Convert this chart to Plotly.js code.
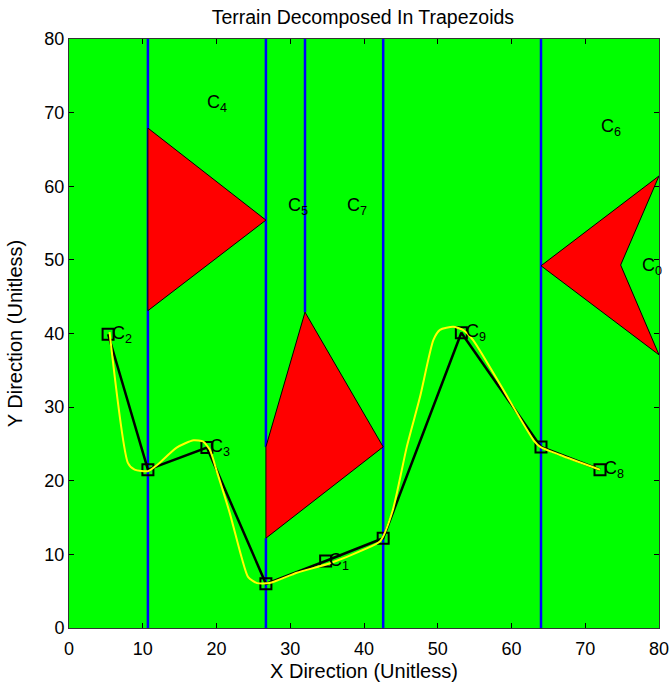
<!DOCTYPE html>
<html>
<head>
<meta charset="utf-8">
<script src="https://cdn.plot.ly/plotly-3.0.1.min.js"></script>
<style>html,body{margin:0;padding:0;background:#fff;}#chart{width:672px;height:692px;}</style>
</head>
<body>
<div id="chart"></div>
<script>
// Vertical decomposition lines (x, yStart, yEnd)
const lineX = [10.7, 26.7, 26.7, 32.0, 42.6, 64.0];
const lineY0 = [0, 0, 24.6, 42.9, 0, 0];
const lineY1 = [80, 12.2, 80, 80, 80, 80];

// Obstacles
const obs1X = [10.7, 26.7, 10.7, 10.7];
const obs1Y = [67.9, 55.4, 43.1, 67.9];
const obs2X = [26.7, 32.0, 42.6, 26.7, 26.7];
const obs2Y = [24.6, 42.9, 24.6, 12.2, 24.6];
const obs3X = [64.0, 80.0, 74.8, 80.0, 64.0];
const obs3Y = [49.2, 61.4, 49.3, 37.1, 49.2];

// Path nodes
const pathX = [5.3, 10.7, 18.7, 26.7, 34.8, 42.6, 53.2, 64.0, 72.0];
const pathY = [39.9, 21.5, 24.5, 6.0, 9.1, 12.2, 40.1, 24.6, 21.5];

// Smoothed path
const smoothX = [5.5, 8.0, 8.9, 10.7, 11.9, 14.6, 16.9, 18.2, 19.1, 20.1, 21.8, 23.4, 24.3, 25.5, 27.2, 30.9, 35.4, 39.9, 42.2, 43.9, 45.8, 47.6, 49.4, 50.3, 52.1, 53.4, 54.8, 63.0, 63.9, 66.6, 72.0];
const smoothY = [40.2, 22.4, 21.5, 21.3, 22.1, 24.5, 25.5, 25.3, 24.2, 21.1, 15.6, 9.6, 6.9, 6.1, 6.1, 7.5, 8.8, 10.6, 11.8, 16.0, 24.6, 31.4, 39.1, 40.5, 40.9, 40.5, 39.1, 25.5, 24.6, 23.5, 21.5];

// Cell labels
const labelText = ["C<sub>4</sub>", "C<sub>5</sub>", "C<sub>7</sub>", "C<sub>6</sub>", "C<sub>0</sub>", "C<sub>2</sub>", "C<sub>3</sub>", "C<sub>1</sub>", "C<sub>9</sub>", "C<sub>8</sub>"];
const labelX = [18.5, 29.4, 37.4, 71.8, 77.4, 5.6, 18.9, 35.0, 53.5, 72.3];
const labelY = [71.3, 57.2, 57.2, 68.0, 49.1, 39.9, 24.5, 9.1, 40.1, 21.5];

const FONT = 'Liberation Sans, Arial, sans-serif';
const traces = [];
for (let i = 0; i < lineX.length; i++) {
  traces.push({x: [lineX[i], lineX[i]], y: [lineY0[i], lineY1[i]], mode: 'lines',
    line: {color: '#0000ff', width: 2.5}, hoverinfo: 'skip'});
}
[[obs1X, obs1Y], [obs2X, obs2Y], [obs3X, obs3Y]].forEach(([px, py]) => {
  traces.push({x: px, y: py, mode: 'lines', fill: 'toself', fillcolor: '#ff0000',
    line: {color: '#000000', width: 1}, hoverinfo: 'skip'});
});
traces.push({x: pathX, y: pathY, mode: 'lines+markers',
  line: {color: '#000000', width: 2.5},
  marker: {symbol: 'square-open', size: 11, color: '#000000', line: {width: 2, color: '#000000'}}});
traces.push({x: smoothX, y: smoothY, mode: 'lines', line: {color: '#ffff00', width: 2, shape: 'spline', smoothing: 0.6}});

const annotations = labelText.map((t, i) => ({
  x: labelX[i], y: labelY[i], text: t, showarrow: false, xanchor: 'left', yanchor: 'middle',
  font: {family: FONT, size: 18, color: '#000000'}
}));

const axisCommon = {
  range: [0, 80], dtick: 10, tick0: 0, showgrid: false, zeroline: false,
  showline: true, linecolor: '#333333', linewidth: 1, mirror: 'ticks',
  ticks: 'inside', ticklen: 5, tickcolor: '#000000', automargin: false,
  tickfont: {family: FONT, size: 18, color: '#000000'}
};

const layout = {
  width: 672, height: 692,
  margin: {l: 69, r: 13, t: 39, b: 64},
  paper_bgcolor: '#ffffff', plot_bgcolor: '#00ff00',
  showlegend: false,
  title: {text: 'Terrain Decomposed In Trapezoids', x: 0.54, xanchor: 'center', y: 0.975, yanchor: 'middle',
    font: {family: FONT, size: 19.5, color: '#000000'}},
  xaxis: Object.assign({}, axisCommon, {ticklabelstandoff: 4, title: {text: 'X Direction (Unitless)', standoff: 6,
    font: {family: FONT, size: 20, color: '#000000'}}}),
  yaxis: Object.assign({}, axisCommon, {title: {text: 'Y Direction (Unitless)', standoff: 16,
    font: {family: FONT, size: 20, color: '#000000'}}}),
  annotations: annotations
};

Plotly.newPlot('chart', traces, layout, {displayModeBar: false, staticPlot: true});
</script>
</body>
</html>
